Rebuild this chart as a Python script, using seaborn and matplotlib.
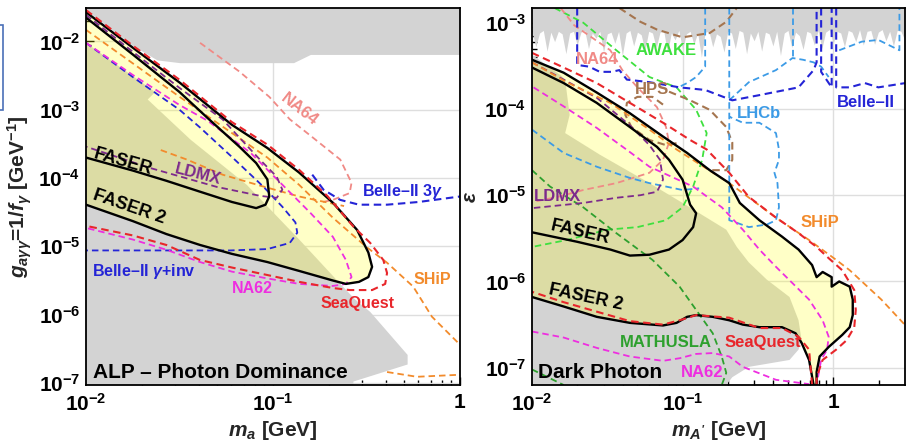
import numpy as np
import matplotlib
matplotlib.use("Agg")
import matplotlib.pyplot as plt
import seaborn as sns
from matplotlib.ticker import LogLocator, NullFormatter
from matplotlib.patches import Rectangle

sns.set_theme(style="white")
plt.rcParams['font.family'] = ['Liberation Sans', 'DejaVu Sans']
plt.rcParams['font.weight'] = 'bold'
plt.rcParams['mathtext.fontset'] = 'custom'
plt.rcParams['mathtext.rm'] = 'Liberation Sans:bold'
plt.rcParams['mathtext.it'] = 'Liberation Sans:italic:bold'
plt.rcParams['mathtext.bf'] = 'Liberation Sans:bold'
plt.rcParams['mathtext.sf'] = 'Liberation Sans:bold'

# ---------------- LEFT PANEL: ALP (log10 m_a [GeV], log10 g [GeV^-1]) ----------------
alp_xlim = (-2.0, 0.0)
alp_ylim = (-7.03, -1.51)

alp_gray_top_lx = [-2.00, -1.75, -1.62, -1.50, -0.89, -0.80, 0.00]
alp_gray_top_ly = [-1.54, -2.06, -2.27, -2.31, -2.31, -2.19, -2.19]

alp_gray_bot_lx = [-2.00, -1.63, -1.67, -1.44, -1.14, -0.86, -0.64, -0.56, -0.48, -0.28, -0.28, -0.57, -0.57, -2.00]
alp_gray_bot_ly = [-2.02, -2.74, -2.85, -3.44, -4.10, -4.90, -5.55, -5.78, -5.96, -6.59, -6.73, -6.98, -7.20, -7.20]

alp_faser2_lx = [-2.00, -1.75, -1.50, -1.22, -1.03, -0.86, -0.68, -0.55, -0.49, -0.47, -0.49, -0.54, -0.61,
                 -0.68, -0.86, -1.03, -1.22, -1.39, -1.57, -1.75, -2.00]
alp_faser2_ly = [-1.57, -2.09, -2.60, -3.22, -3.56, -3.92, -4.36, -4.76, -5.09, -5.30, -5.45, -5.52, -5.55,
                 -5.50, -5.36, -5.23, -5.11, -4.98, -4.82, -4.63, -4.39]

alp_faser_lx = [-2.00, -1.75, -1.50, -1.35, -1.18, -1.09, -1.03, -1.02, -1.04, -1.09, -1.22, -1.39, -1.57, -1.75, -2.00]
alp_faser_ly = [-1.65, -2.19, -2.74, -3.12, -3.54, -3.78, -4.02, -4.27, -4.39, -4.44, -4.35, -4.20, -4.04, -3.89, -3.70]

alp_seaquest_lx = [-2.00, -1.75, -1.50, -1.22, -1.03, -0.86, -0.71, -0.57, -0.48, -0.41, -0.39, -0.40, -0.47,
                   -0.59, -0.68, -0.86, -1.03, -1.22, -1.39, -1.57, -1.75, -2.00]
alp_seaquest_ly = [-1.54, -2.06, -2.56, -3.18, -3.51, -3.88, -4.26, -4.71, -4.95, -5.20, -5.39, -5.55, -5.64,
                   -5.64, -5.61, -5.52, -5.42, -5.31, -5.20, -4.98, -4.84, -4.70]

alp_ldmx_lx = [-2.00, -1.75, -1.50, -1.27, -1.07, -0.98, -0.95, -0.98, -1.07, -1.30, -1.66, -2.00]
alp_ldmx_ly = [-1.61, -2.15, -2.68, -3.14, -3.73, -3.98, -4.17, -4.29, -4.26, -4.13, -3.85, -3.54]

alp_ship_lx = [-2.00, -1.50, -1.22, -1.03, -0.86, -0.68, -0.50, -0.39, -0.25, -0.15, 0.00]
alp_ship_ly = [-1.83, -2.81, -3.34, -3.70, -4.10, -4.58, -5.01, -5.24, -5.59, -6.03, -6.44]
alp_ship2_lx = [-1.60, -1.46, -1.27, -1.07, -0.86, -0.62]
alp_ship2_ly = [-3.59, -3.73, -3.95, -4.11, -4.27, -4.41]
alp_ship3_lx = [-0.39, -0.23, 0.00]
alp_ship3_ly = [-6.84, -6.91, -6.88]

alp_na62_lx = [-2.00, -1.75, -1.50, -1.35, -1.12, -0.96, -0.80, -0.68, -0.61, -0.58, -0.61,
               -0.68, -0.86, -1.03, -1.22, -1.39, -1.57, -1.75, -2.00]
alp_na62_ly = [-2.02, -2.49, -2.93, -3.16, -3.63, -4.07, -4.51, -4.86, -5.20, -5.45, -5.55,
               -5.58, -5.55, -5.47, -5.37, -5.23, -5.05, -4.90, -4.73]

alp_belle_inv_lx = [-2.00, -1.75, -1.50, -1.39, -1.22, -1.05, -0.95, -0.88, -0.87, -0.91, -1.03, -1.23, -2.00]
alp_belle_inv_ly = [-2.02, -2.52, -3.00, -3.26, -3.69, -4.13, -4.42, -4.65, -4.80, -4.95, -5.04, -5.06, -5.06]

alp_belle_3g_lx = [-0.79, -0.73, -0.64, -0.54, -0.39, -0.22, 0.00]
alp_belle_3g_ly = [-3.95, -4.17, -4.32, -4.39, -4.39, -4.35, -4.27]

alp_na64_lx = [-1.39, -1.18, -1.02, -0.91, -0.79, -0.64, -0.58, -0.59, -0.68, -0.75]
alp_na64_ly = [-2.02, -2.44, -2.81, -3.14, -3.40, -3.73, -4.07, -4.22, -4.32, -4.36]

# ---------------- RIGHT PANEL: Dark photon (log10 m_A' [GeV], log10 eps) ----------------
dp_xlim = (-2.0, 0.477)
dp_ylim = (-7.20, -2.83)

dp_gray_top_lx = [-2.000, -1.975, -1.950, -1.925, -1.900, -1.875, -1.850, -1.825, -1.800, -1.775,
                  -1.750, -1.725, -1.700, -1.675, -1.650, -1.625, -1.600, -1.575, -1.550, -1.525,
                  -1.500, -1.475, -1.450, -1.425, -1.400, -1.375, -1.350, -1.325, -1.300, -1.275,
                  -1.250, -1.225, -1.200, -1.175, -1.150, -1.125, -1.100, -1.075, -1.050, -1.025,
                  -1.000, -0.975, -0.950, -0.925, -0.900, -0.875, -0.850, -0.825, -0.800, -0.775,
                  -0.750, -0.725, -0.700, -0.675, -0.650, -0.625, -0.600, -0.575, -0.550, -0.525,
                  -0.500, -0.475, -0.450, -0.425, -0.400, -0.375, -0.350, -0.325, -0.300, -0.275,
                  -0.250, -0.225, -0.200, -0.175, -0.150, -0.125, -0.100, -0.075, -0.050, -0.025,
                  0.000, 0.025, 0.050, 0.075, 0.100, 0.125, 0.150, 0.175, 0.200, 0.225,
                  0.250, 0.275, 0.300, 0.325, 0.350, 0.375, 0.400, 0.425, 0.450, 0.475]
dp_gray_top_ly = [-3.10, -3.28, -3.12, -3.09, -3.33, -3.11, -3.22, -3.10, -3.13, -3.36,
                  -3.12, -3.10, -3.26, -3.11, -3.09, -3.30, -3.12, -3.18, -3.10, -3.34,
                  -3.13, -3.11, -3.24, -3.10, -3.38, -3.12, -3.09, -3.27, -3.11, -3.14,
                  -3.32, -3.10, -3.12, -3.29, -3.11, -3.10, -3.35, -3.12, -3.20, -3.09,
                  -3.31, -3.13, -3.10, -3.25, -3.12, -3.40, -3.11, -3.10, -3.28, -3.13,
                  -3.16, -3.34, -3.10, -3.12, -3.30, -3.09, -3.11, -3.36, -3.12, -3.21,
                  -3.10, -3.33, -3.11, -3.13, -3.27, -3.10, -3.38, -3.12, -3.09, -3.29,
                  -3.11, -3.15, -3.31, -3.10, -3.12, -3.26, -3.09, -3.30, -3.11, -3.08,
                  -3.24, -3.10, -3.12, -3.28, -3.09, -3.11, -3.22, -3.08, -3.26, -3.10,
                  -3.09, -3.25, -3.11, -3.08, -3.21, -3.10, -3.27, -3.09, -3.10, -3.20]

dp_gray_bot_lx = [-2.00, -1.81, -1.78, -1.75, -1.78, -1.55, -1.22, -1.00, -0.71, -0.64, -0.56, -0.44, -0.29,
                  -0.23, -0.21, -0.23, -0.29, -0.56, -0.67, -0.71, -2.00]
dp_gray_bot_ly = [-3.37, -3.61, -3.66, -4.07, -4.28, -4.53, -4.86, -5.09, -5.40, -5.60, -5.78, -5.98, -6.18,
                  -6.45, -6.68, -6.79, -6.91, -6.99, -7.11, -7.20, -7.20]

dp_faser2_lx = [-2.00, -1.79, -1.57, -1.35, -1.13, -0.97, -0.82, -0.69, -0.62, -0.49, -0.34, -0.23, -0.14,
                -0.11, -0.07, -0.01, -0.01, 0.04, 0.11, 0.13, 0.13, 0.11, 0.06, -0.03, -0.09, -0.11, -0.11,
                -0.13, -0.16, -0.21, -0.25, -0.34, -0.49, -0.60, -0.69, -0.80, -0.91, -0.97, -1.04, -1.13,
                -1.35, -1.57, -1.79, -2.00]
dp_faser2_ly = [-3.43, -3.58, -3.81, -4.05, -4.32, -4.51, -4.71, -4.86, -5.09, -5.29, -5.48, -5.63, -5.81,
                -5.95, -5.89, -5.95, -6.06, -6.00, -6.06, -6.21, -6.39, -6.53, -6.62, -6.76, -6.87, -7.05, -7.20,
                -7.20, -6.91, -6.71, -6.60, -6.53, -6.53, -6.50, -6.45, -6.41, -6.39, -6.41, -6.48, -6.51,
                -6.48, -6.41, -6.29, -6.18]

dp_faser_lx = [-2.00, -1.79, -1.57, -1.35, -1.17, -1.09, -1.00, -0.95, -0.91, -0.93, -1.00, -1.09, -1.22,
               -1.35, -1.48, -1.70, -2.00]
dp_faser_ly = [-3.52, -3.70, -3.93, -4.21, -4.44, -4.59, -4.82, -5.11, -5.21, -5.37, -5.52, -5.63, -5.69,
               -5.70, -5.63, -5.54, -5.43]

dp_seaquest_lx = [-2.00, -1.79, -1.57, -1.35, -1.13, -0.95, -0.84, -0.69, -0.56, -0.38, -0.23, -0.11, -0.03,
                  0.06, 0.14, 0.15, 0.14, 0.09, 0.02, -0.07, -0.11, -0.11,
                  -0.14, -0.16, -0.23, -0.34, -0.49, -0.69, -0.91, -1.00, -1.13, -1.35, -1.57, -1.79, -2.00]
dp_seaquest_ly = [-3.35, -3.52, -3.70, -3.93, -4.16, -4.36, -4.47, -4.74, -5.02, -5.26, -5.44, -5.60, -5.73,
                  -5.87, -6.10, -6.33, -6.53, -6.68, -6.79, -6.91, -7.11, -7.20,
                  -7.20, -6.79, -6.64, -6.54, -6.54, -6.42, -6.39, -6.44, -6.50, -6.46, -6.35, -6.24, -6.12]

dp_ship_lx = [-2.00, -1.77, -1.48, -1.22, -1.04, -0.69, -0.38, -0.16, 0.02, 0.11, 0.32, 0.48]
dp_ship_ly = [-3.46, -3.69, -3.93, -4.24, -4.47, -4.86, -5.26, -5.52, -5.75, -5.87, -6.21, -6.51]

dp_na62_lx = [-1.99, -1.79, -1.57, -1.35, -1.22, -0.93, -0.74, -0.60, -0.49, -0.38, -0.27, -0.16, -0.07,
              -0.03, -0.04, -0.08, -0.11]
dp_na62_ly = [-3.75, -3.97, -4.22, -4.50, -4.67, -4.90, -5.14, -5.40, -5.63, -5.83, -6.02, -6.21, -6.45,
              -6.64, -6.79, -6.91, -7.20]
dp_na62low_lx = [-2.00, -1.79, -1.57, -1.35, -1.13, -1.02, -0.91, -0.80, -0.69, -0.60, -0.38, -0.16]
dp_na62low_ly = [-6.58, -6.65, -6.77, -6.87, -6.92, -6.89, -6.84, -6.83, -6.87, -6.99, -7.14, -7.19]

dp_belle1_lx = [-1.70, -1.70, -1.62, -1.55, -1.47, -1.42, -1.37, -1.22, -1.02, -0.85, -0.67, -0.49, -0.23,
                -0.13, -0.11, -0.11]
dp_belle1_ly = [-2.83, -3.49, -3.51, -3.57, -3.57, -3.55, -3.66, -3.69, -3.75, -3.78, -3.90, -3.84, -3.75,
                -3.55, -3.46, -2.83]
dp_belle2_lx = [-0.08, -0.08, -0.01, -0.01]
dp_belle2_ly = [-2.83, -3.57, -3.75, -2.83]
dp_belle3_lx = [0.02, 0.02, 0.11, 0.21, 0.30, 0.48]
dp_belle3_ly = [-2.83, -3.75, -3.75, -3.70, -3.75, -3.70]

dp_lhcb1_lx = [-0.85, -0.85, -0.91, -0.97, -1.04]
dp_lhcb1_ly = [-2.83, -3.51, -3.63, -3.70, -3.76]
dp_lhcb2_lx = [-0.69, -0.69, -0.64, -0.56, -0.44, -0.38, -0.36, -0.37, -0.39, -0.36, -0.36, -0.38, -0.49, -0.60, -0.69]
dp_lhcb2_ly = [-2.83, -5.29, -5.32, -5.37, -5.34, -5.29, -5.14, -4.86, -4.74, -4.59, -4.47, -4.28, -4.16, -4.16, -4.09]
dp_lhcb3_lx = [-0.69, -0.56, -0.38, -0.27, -0.20, -0.13, -0.08, -0.03]
dp_lhcb3_ly = [-3.90, -3.69, -3.55, -3.41, -3.43, -3.46, -3.51, -3.63]
dp_lhcb4_lx = [-0.27, -0.27]
dp_lhcb4_ly = [-2.83, -3.41]
dp_lhcb5_lx = [0.04, 0.19, 0.30, 0.44, 0.44]
dp_lhcb5_ly = [-3.32, -3.22, -3.20, -3.32, -2.83]
dp_lhcb6_lx = [-2.00, -1.79, -1.57, -1.35, -1.22, -1.00, -0.89]
dp_lhcb6_ly = [-4.24, -4.51, -4.67, -4.80, -4.86, -4.94, -4.92]

dp_hps1_lx = [-1.42, -1.28, -1.17, -1.00, -0.82, -0.71, -0.64]
dp_hps1_ly = [-2.83, -2.99, -3.08, -3.17, -3.12, -2.99, -2.83]
dp_hps2_lx = [-1.13, -1.20, -1.30, -1.37, -1.38, -1.34, -1.22, -1.11, -1.02]
dp_hps2_ly = [-3.95, -3.86, -3.86, -3.93, -4.07, -4.21, -4.36, -4.42, -4.39]
dp_hps3_lx = [-1.09, -0.95, -0.82, -0.71, -0.67, -0.67, -0.71, -0.81]
dp_hps3_ly = [-3.80, -3.90, -4.01, -4.21, -4.39, -4.59, -4.71, -4.71]

dp_na64_lx = [-1.81, -1.72, -1.48, -1.40, -1.30, -1.17, -1.11, -1.09, -1.13, -1.22, -1.44, -1.66, -1.83, -2.00]
dp_na64_ly = [-2.83, -3.03, -3.32, -3.55, -3.75, -3.98, -4.21, -4.39, -4.59, -4.74, -4.86, -4.94, -5.02, -5.08]

dp_awake_lx = [-1.85, -1.66, -1.44, -1.22, -1.04, -0.91, -0.84, -0.87, -0.93, -1.00, -1.11, -1.30, -1.50, -1.77, -2.00]
dp_awake_ly = [-2.83, -3.00, -3.32, -3.63, -3.75, -4.01, -4.28, -4.59, -4.90, -5.14, -5.29, -5.37, -5.40, -5.52, -5.60]

dp_mathusla_lx = [-2.00, -1.88, -1.66, -1.44, -1.20, -1.02, -0.91, -0.80, -0.74, -0.71, -0.74]
dp_mathusla_ly = [-4.71, -4.90, -5.14, -5.44, -5.75, -6.06, -6.33, -6.60, -6.87, -7.06, -7.20]
dp_mathusla2_lx = [-2.00, -1.79]
dp_mathusla2_ly = [-7.02, -7.20]

dp_ldmx_lx = [-2.00, -1.79, -1.57, -1.35, -1.22, -1.15, -1.13, -1.17, -1.28, -1.44, -1.66, -2.00]
dp_ldmx_ly = [-3.46, -3.66, -3.87, -4.19, -4.42, -4.59, -4.82, -4.96, -5.00, -5.03, -5.09, -5.15]

# ---------------- colours ----------------
C_GRAY = '#d3d3d3'
C_RED = '#e8262b'
C_ORANGE = '#f28b2c'
C_MAG = '#ee2ee0'
C_BLUE = '#2424d6'
C_PURPLE = '#7d2a8c'
C_SALMON = '#f08a86'
C_LIME = '#3ee03e'
C_GREEN = '#2ea02e'
C_BROWN = '#a5754f'
C_LBLUE = '#3c9be6'

P = lambda v: 10.0 ** np.asarray(v, dtype=float)


def curve(ax, lx, ly, color, dashed=True, lw=1.3, z=3):
    sns.lineplot(x=P(lx), y=P(ly), sort=False, estimator=None, color=color,
                 lw=lw, ax=ax, zorder=z, legend=False)
    ln = ax.lines[-1]
    if dashed:
        ln.set_dashes([3.6, 2.2])
    ln.set_solid_capstyle('round')


def label(ax, lx, ly, s, color, size=11.5, rot=0, ha='center'):
    ax.text(10 ** lx, 10 ** ly, s, color=color, fontsize=size, fontweight='bold',
            rotation=rot, ha=ha, va='center', zorder=8, rotation_mode='anchor')


def style_axes(ax, xlim, ylim, xt, xtl, yt, ytl):
    ax.set_xscale('log')
    ax.set_yscale('log')
    ax.set_xlim(P(xlim[0]), P(xlim[1]))
    ax.set_ylim(P(ylim[0]), P(ylim[1]))
    ax.set_xticks(xt)
    ax.set_xticklabels(xtl)
    ax.set_yticks(yt)
    ax.set_yticklabels(ytl)
    ax.xaxis.set_minor_locator(LogLocator(base=10, subs=np.arange(2, 10), numticks=30))
    ax.yaxis.set_minor_locator(LogLocator(base=10, subs=np.arange(2, 10), numticks=30))
    ax.xaxis.set_minor_formatter(NullFormatter())
    ax.yaxis.set_minor_formatter(NullFormatter())
    ax.tick_params(which='both', direction='in', left=True, bottom=True, top=False, right=False,
                   colors='black', labelsize=15, width=1.0)
    ax.tick_params(which='major', length=6)
    ax.tick_params(axis='x', which='major', pad=6)
    ax.tick_params(axis='y', which='major', pad=4)
    ax.tick_params(which='minor', length=3.5)
    ax.grid(True, which='major', color='#dedede', lw=1.0, zorder=0)
    ax.set_axisbelow(True)
    for sp in ax.spines.values():
        sp.set_color('black')
        sp.set_linewidth(1.3)
        sp.set_zorder(10)


fig = plt.figure(figsize=(9.06, 4.42), dpi=100)
axL = fig.add_axes([0.0949, 0.1290, 0.4128, 0.8529])
axR = fig.add_axes([0.5872, 0.1290, 0.4117, 0.8529])

# ----- left panel -----
axL.fill_between(P(alp_gray_top_lx), P(alp_gray_top_ly), P(-1.0), color=C_GRAY, lw=0, zorder=1)
axL.fill(P(alp_gray_bot_lx), P(alp_gray_bot_ly), color=C_GRAY, lw=0, zorder=1)
axL.fill(P(alp_faser2_lx), P(alp_faser2_ly), color='yellow', alpha=0.22, lw=0, zorder=1.5)

curve(axL, alp_na64_lx, alp_na64_ly, C_SALMON)
curve(axL, alp_ship_lx, alp_ship_ly, C_ORANGE)
curve(axL, alp_ship2_lx, alp_ship2_ly, C_ORANGE)
curve(axL, alp_ship3_lx, alp_ship3_ly, C_ORANGE)
curve(axL, alp_belle_inv_lx, alp_belle_inv_ly, C_BLUE)
curve(axL, alp_belle_3g_lx, alp_belle_3g_ly, C_BLUE, lw=1.5)
curve(axL, alp_na62_lx, alp_na62_ly, C_MAG)
curve(axL, alp_ldmx_lx, alp_ldmx_ly, C_PURPLE)
curve(axL, alp_faser_lx, alp_faser_ly, 'black', dashed=False, lw=1.7, z=4)
curve(axL, alp_faser2_lx, alp_faser2_ly, 'black', dashed=False, lw=1.7, z=4)
curve(axL, alp_seaquest_lx, alp_seaquest_ly, C_RED, lw=1.5, z=5)

label(axL, -0.86, -3.00, 'NA64', C_SALMON, 12, rot=-38)
label(axL, -1.80, -3.76, 'FASER', 'black', 13, rot=-16)
label(axL, -1.40, -3.95, 'LDMX', C_PURPLE, 12, rot=-14)
label(axL, -1.77, -4.42, 'FASER 2', 'black', 13, rot=-19)
label(axL, -0.31, -4.20, r'Belle–II 3$\gamma$', C_BLUE, 11.5)
label(axL, -1.97, -5.37, r'Belle–II $\gamma$+inv', C_BLUE, 11.5, ha='left')
label(axL, -1.11, -5.61, 'NA62', C_MAG, 11.5)
label(axL, -0.55, -5.83, 'SeaQuest', C_RED, 11.5)
label(axL, -0.15, -5.49, 'SHiP', C_ORANGE, 11.5)
label(axL, -1.96, -6.84, 'ALP – Photon Dominance', 'black', 15, ha='left')

style_axes(axL, alp_xlim, alp_ylim,
           [1e-2, 1e-1, 1.0], [r'$\mathbf{10^{-2}}$', r'$\mathbf{10^{-1}}$', r'$\mathbf{1}$'],
           [1e-7, 1e-6, 1e-5, 1e-4, 1e-3, 1e-2],
           [r'$\mathbf{10^{-7}}$', r'$\mathbf{10^{-6}}$', r'$\mathbf{10^{-5}}$',
            r'$\mathbf{10^{-4}}$', r'$\mathbf{10^{-3}}$', r'$\mathbf{10^{-2}}$'])
axL.set_xlabel(r'$m_a$ [GeV]', fontsize=15, fontweight='bold', labelpad=3)
axL.set_ylabel(r'$g_{a\gamma\gamma}$=1/$f_\gamma$ [GeV$^{-1}$]', fontsize=15, fontweight='bold', labelpad=3)

# ----- right panel -----
axR.fill_between(P(dp_gray_top_lx), P(dp_gray_top_ly), P(-2.0), color=C_GRAY, lw=0, zorder=1)
axR.fill(P(dp_gray_bot_lx), P(dp_gray_bot_ly), color=C_GRAY, lw=0, zorder=1)
axR.fill(P(dp_faser2_lx), P(dp_faser2_ly), color='yellow', alpha=0.22, lw=0, zorder=1.5)

curve(axR, dp_awake_lx, dp_awake_ly, C_LIME)
curve(axR, dp_mathusla_lx, dp_mathusla_ly, C_GREEN)
curve(axR, dp_mathusla2_lx, dp_mathusla2_ly, C_GREEN)
curve(axR, dp_na64_lx, dp_na64_ly, C_SALMON)
curve(axR, dp_hps1_lx, dp_hps1_ly, C_BROWN, lw=1.5)
curve(axR, dp_hps2_lx, dp_hps2_ly, C_BROWN, lw=1.5)
curve(axR, dp_hps3_lx, dp_hps3_ly, C_BROWN, lw=1.5)
for lx_, ly_ in [(dp_lhcb1_lx, dp_lhcb1_ly), (dp_lhcb2_lx, dp_lhcb2_ly), (dp_lhcb3_lx, dp_lhcb3_ly),
                 (dp_lhcb4_lx, dp_lhcb4_ly), (dp_lhcb5_lx, dp_lhcb5_ly), (dp_lhcb6_lx, dp_lhcb6_ly)]:
    curve(axR, lx_, ly_, C_LBLUE)
for lx_, ly_ in [(dp_belle1_lx, dp_belle1_ly), (dp_belle2_lx, dp_belle2_ly), (dp_belle3_lx, dp_belle3_ly)]:
    curve(axR, lx_, ly_, C_BLUE, lw=1.5)
curve(axR, dp_ldmx_lx, dp_ldmx_ly, C_PURPLE)
curve(axR, dp_na62_lx, dp_na62_ly, C_MAG)
curve(axR, dp_na62low_lx, dp_na62low_ly, C_MAG)
curve(axR, dp_ship_lx, dp_ship_ly, C_ORANGE)
curve(axR, dp_faser_lx, dp_faser_ly, 'black', dashed=False, lw=1.7, z=4)
curve(axR, dp_faser2_lx, dp_faser2_ly, 'black', dashed=False, lw=1.7, z=4)
curve(axR, dp_seaquest_lx, dp_seaquest_ly, C_RED, lw=1.5, z=5)

label(axR, -1.11, -3.32, 'AWAKE', C_LIME, 12)
label(axR, -1.57, -3.43, 'NA64', C_SALMON, 12)
label(axR, -1.20, -3.78, 'HPS', C_BROWN, 12)
label(axR, -0.49, -4.05, 'LHCb', C_LBLUE, 12)
label(axR, 0.22, -3.92, 'Belle–II', C_BLUE, 12)
label(axR, -1.83, -5.02, 'LDMX', C_PURPLE, 12)
label(axR, -1.68, -5.43, 'FASER', 'black', 13, rot=-13)
label(axR, -0.09, -5.32, 'SHiP', C_ORANGE, 12)
label(axR, -1.64, -6.19, 'FASER 2', 'black', 13, rot=-12)
label(axR, -1.11, -6.71, 'MATHUSLA', C_GREEN, 12)
label(axR, -0.47, -6.71, 'SeaQuest', C_RED, 12)
label(axR, -1.96, -7.05, 'Dark Photon', 'black', 15, ha='left')
label(axR, -0.87, -7.06, 'NA62', C_MAG, 12)

style_axes(axR, dp_xlim, dp_ylim,
           [1e-2, 1e-1, 1.0], [r'$\mathbf{10^{-2}}$', r'$\mathbf{10^{-1}}$', r'$\mathbf{1}$'],
           [1e-7, 1e-6, 1e-5, 1e-4, 1e-3],
           [r'$\mathbf{10^{-7}}$', r'$\mathbf{10^{-6}}$', r'$\mathbf{10^{-5}}$',
            r'$\mathbf{10^{-4}}$', r'$\mathbf{10^{-3}}$'])
axR.set_xlabel(r"$m_{A'}$ [GeV]", fontsize=15, fontweight='bold', labelpad=3)
axR.set_ylabel(r'$\varepsilon$', fontsize=15, fontweight='bold', labelpad=3)

# cropped frame at the left edge of the original image
fig.patches.append(Rectangle((-0.004, 1 - 110 / 442), 0.0075, 85 / 442, transform=fig.transFigure,
                             fill=False, edgecolor='#4a70b8', lw=1.2))

fig.savefig('out.png', dpi=100)
